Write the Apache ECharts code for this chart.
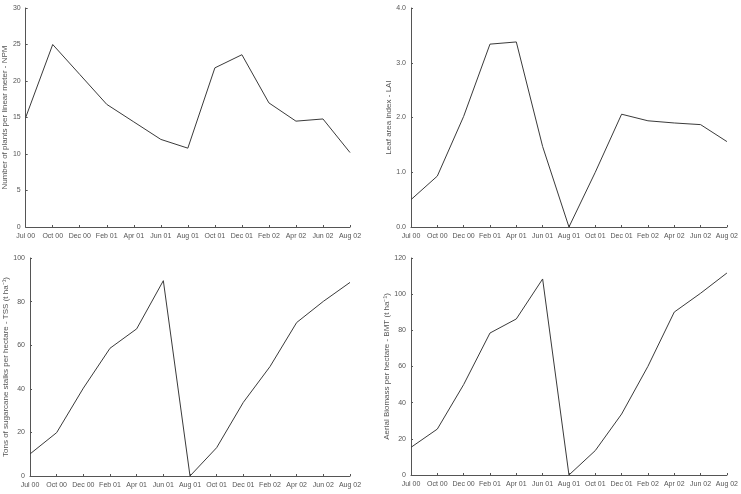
<!DOCTYPE html>
<html>
<head>
<meta charset="utf-8">
<script src="https://cdn.jsdelivr.net/npm/echarts@6/dist/echarts.min.js"></script>
<style>
  html, body { margin: 0; padding: 0; background: #fff; }
  #chart { width: 741px; height: 494px; }
</style>
</head>
<body>
<div id="chart"></div>
<script>
// months of sampling
const months = ['Jul 00', 'Oct 00', 'Dec 00', 'Feb 01', 'Apr 01', 'Jun 01', 'Aug 01',
  'Oct 01', 'Dec 01', 'Feb 02', 'Apr 02', 'Jun 02', 'Aug 02']

// values
const npm = [15.0, 25.0, 20.9, 16.8, 14.4, 12.0, 10.8, 21.8, 23.6, 17.0, 14.5, 14.8, 10.2]
const lai = [0.50, 0.93, 2.02, 3.34, 3.38, 1.47, 0.0, 1.0, 2.06, 1.94, 1.90, 1.87, 1.56]
const tss = [10.1, 19.9, 40.3, 58.6, 67.5, 89.6, 0, 13.0, 33.8, 50.2, 70.4, 80.1, 88.8]
const bmt = [15.3, 25.4, 50.0, 78.5, 86.3, 108.4, 0, 13.5, 33.7, 60.1, 90.1, 100.5, 111.7]

const textColor = '#555'
const lineColor = '#555'
const font = 'Liberation Sans'

function xAxisFor (idx) {
  return {
    type: 'category',
    gridIndex: idx,
    data: months,
    boundaryGap: false,
    axisLine: { lineStyle: { color: lineColor, width: 1 } },
    axisTick: { inside: true, length: 2, lineStyle: { color: lineColor } },
    axisLabel: { interval: 0, fontSize: 7, color: textColor, fontFamily: font, margin: 6 },
    splitLine: { show: false }
  }
}

function yAxisFor (idx, name, max, interval, gap, digits) {
  return {
    type: 'value',
    gridIndex: idx,
    min: 0,
    max: max,
    interval: interval,
    name: name,
    nameLocation: 'middle',
    nameGap: gap,
    nameTextStyle: { fontSize: 8, color: textColor, fontFamily: font },
    axisLine: { show: true, lineStyle: { color: lineColor, width: 1 } },
    axisTick: { show: true, inside: true, length: 2, lineStyle: { color: lineColor } },
    axisLabel: {
      fontSize: 7,
      color: textColor,
      fontFamily: font,
      margin: 5,
      formatter: v => v.toFixed(digits)
    },
    splitLine: { show: false }
  }
}

function lineFor (idx, data) {
  return {
    type: 'line',
    xAxisIndex: idx,
    yAxisIndex: idx,
    data: data,
    symbol: 'none',
    lineStyle: { color: '#3a3a3a', width: 1 },
    animation: false
  }
}

const chart = echarts.init(document.getElementById('chart'))
chart.setOption({
  backgroundColor: '#fff',
  animation: false,
  grid: [
    { left: 24, top: 8, right: 391, bottom: 267 },
    { left: 411, top: 8, right: 6, bottom: 267 },
    { left: 30, top: 258, right: 391, bottom: 18 },
    { left: 411, top: 258, right: 6, bottom: 19 }
  ],
  xAxis: [xAxisFor(0), xAxisFor(1), xAxisFor(2), xAxisFor(3)],
  yAxis: [
    yAxisFor(0, 'Number of plants per linear meter - NPM', 30, 5, 8, 0),
    yAxisFor(1, 'Leaf area index - LAI', 4, 1, 17, 1),
    yAxisFor(2, 'Tons of sugarcane stalks per hectare - TSS (t ha\u207B\u00B9)', 100, 20, 20, 0),
    yAxisFor(3, 'Aerial Biomass per hectare - BMT (t ha\u207B\u00B9)', 120, 20, 14, 0)
  ],
  series: [lineFor(0, npm), lineFor(1, lai), lineFor(2, tss), lineFor(3, bmt)]
})
</script>
</body>
</html>
